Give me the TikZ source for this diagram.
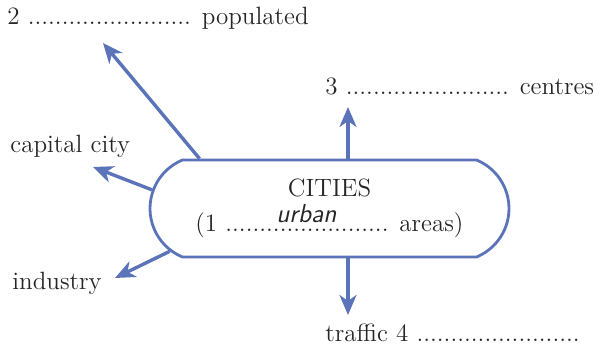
\documentclass[tikz,border=0pt]{standalone}
\usetikzlibrary{arrows.meta,shapes.misc}
\definecolor{flecha}{HTML}{5B73B8}
\definecolor{tinta}{HTML}{262626}
\newcommand{\huecos}{........................}

\begin{document}
\begin{tikzpicture}[x=0.5pt, y=-0.5pt,
    marco/.style={rounded rectangle, rounded rectangle arc length=135,
      draw=flecha, line width=1.4pt, minimum width=179.5pt, minimum height=48.5pt,
      inner sep=0pt, align=center, text=tinta, font=\fontsize{12.5}{17.5}\selectfont},
    flechita/.style={draw=flecha, line width=1.7pt,
      -{Stealth[length=10pt, width=8.5pt, inset=3pt]}},
    rotulo/.style={anchor=base west, inner sep=0pt, text=tinta,
      font=\fontsize{12.5}{15}\selectfont}]
  \useasboundingbox (0,0) rectangle (605,352);
  % la caja central
  \node[marco] (ciudad) at (329.5,208.5) {CITIES\\(1 \huecos{} areas)};
  \node[anchor=base west, inner sep=0pt, text=tinta,
    font=\fontsize{13}{15}\selectfont\sffamily\itshape] (resp) at (276,223) {urban};
  % los rotulos
  \node[rotulo] (pobl) at (7,25) {2 \huecos{} populated};
  \node[rotulo] (cent) at (325,95) {3 \huecos{} centres};
  \node[rotulo] (capi) at (10,153) {capital city};
  \node[rotulo] (indu) at (12,290) {industry};
  \node[rotulo] (traf) at (325,342) {traffic 4 \huecos};
  % puntas de las flechas
  \coordinate (tpobl) at (103,43);
  \coordinate (tcapi) at (93,167);
  \coordinate (tindu) at (115,278);
  \coordinate (tcent) at (348,107);
  \coordinate (ttraf) at (348,315);
  % flechas
  \draw[flechita] (ciudad.159.2) -- (tpobl);
  \draw[flechita] (ciudad.174) -- (tcapi);
  \draw[flechita] (ciudad.195.3) -- (tindu);
  \draw[flechita] (ciudad.north -| tcent) -- (tcent);
  \draw[flechita] (ciudad.south -| ttraf) -- (ttraf);
\end{tikzpicture}
\end{document}
